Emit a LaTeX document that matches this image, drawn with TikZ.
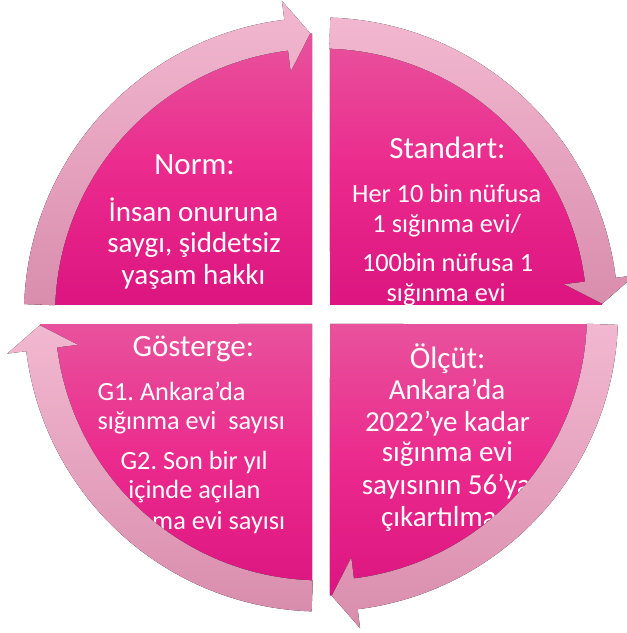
\documentclass[tikz,border=0pt]{standalone}
\usepackage{fontspec}
\setmainfont{Carlito}
\usetikzlibrary{calc}
\frenchspacing
\definecolor{qtop}{HTML}{E8529C}
\definecolor{qmid}{HTML}{EB2A8D}
\definecolor{qbot}{HTML}{DC1580}
\definecolor{atop}{HTML}{F2B8D0}
\definecolor{abot}{HTML}{D98DAD}
\tikzset{
  quad/.style={top color=qtop, bottom color=qbot, middle color=qmid},
  arrowband/.style={top color=atop, bottom color=abot},
  ttl/.style={text=white, inner sep=0pt, font=\fontsize{31}{37}\selectfont},
  bodyL/.style={text=white, inner sep=0pt, font=\fontsize{29}{35}\selectfont},
  bodyS/.style={text=white, inner sep=0pt, font=\fontsize{26.3}{32}\selectfont},
}
\newcommand{\cycarrow}[3]{%
  \fill[arrowband] ($(C)+(#1:297)$) arc[start angle=#1, end angle=#2, radius=297]
    -- ($(C)+(#2:316)$) -- ($(C)+(#3:281.5)$) -- ($(C)+(#2:245)$)
    -- ($(C)+(#2:266)$) arc[start angle=#2, end angle=#1, radius=266] -- cycle;}
\begin{document}
\begin{tikzpicture}[x=1pt,y=1pt]
\useasboundingbox (0,0) rectangle (627,633);
\fill[white] (0,0) rectangle (627,633);
\coordinate (C) at (321,318.5);
% quadrants
\fill[quad] (312,328) -- ($(C)+(91.835:281)$) arc[start angle=91.835,end angle=178.06,radius=281] -- cycle;
\fill[quad] (330,328) -- ($(C)+(88.165:281)$) arc[start angle=88.165,end angle=1.94,radius=281] -- cycle;
\fill[quad] (330,309) -- ($(C)+(-1.94:281)$) arc[start angle=-1.94,end angle=-88.165,radius=281] -- cycle;
\fill[quad] (312,309) -- ($(C)+(-91.835:281)$) arc[start angle=-91.835,end angle=-178.06,radius=281] -- cycle;
% texts top-left
\node[ttl,anchor=base] (tlT) at (194.5,458) {Norm:};
\node[bodyL,anchor=base] (tl1) at (193.5,411.5) {İnsan onuruna};
\node[bodyL,anchor=base] (tl2) at (194,380.5) {saygı, şiddetsiz};
\node[bodyL,anchor=base] (tl3) at (193.5,348.5) {yaşam hakkı};
% texts top-right
\node[ttl,anchor=base] (trT) at (447.5,474.7) {Standart:};
\node[bodyS,anchor=base] (tr1) at (446.7,430.3) {Her 10 bin nüfusa};
\node[bodyS,anchor=base] (tr2) at (446.7,400.7) {1 sığınma evi/};
\node[bodyS,anchor=base] (tr3) at (447.7,361.3) {100bin nüfusa 1};
\node[bodyS,anchor=base] (tr4) at (446.2,331.3) {sığınma evi};
% texts bottom-left
\node[ttl,anchor=base] (blT) at (193.3,276.3) {Gösterge:};
\node[bodyS,anchor=base west] (bl1) at (97.3,232.3) {G1. Ankara’da};
\node[bodyS,anchor=base west] (bl2) at (97.3,203) {sığınma evi\ \ sayısı};
\node[bodyS,anchor=base] (bl3) at (194.2,163) {G2. Son bir yıl};
\node[bodyS,anchor=base] (bl4) at (194.5,134.5) {içinde açılan};
\node[bodyS,anchor=base east] (bl5) at (285.5,103.5) {sığınma evi sayısı};
% texts bottom-right
\node[ttl,anchor=base] (brT) at (447.7,264.7) {Ölçüt:};
\node[bodyL,anchor=base] (br1) at (447,233) {Ankara’da};
\node[bodyL,anchor=base] (br2) at (447.5,201.3) {2022’ye kadar};
\node[bodyL,anchor=base] (br3) at (447.5,171.3) {sığınma evi};
\node[bodyL,anchor=base west] (br4) at (361.7,138) {sayısının 56’ya};
\node[bodyL,anchor=base west] (br5) at (381,106.3) {çıkartılması};
% cycle arrows
\cycarrow{178}{97.1}{92.2}
\cycarrow{88.2}{7.1}{2.2}
\cycarrow{-2}{-82.9}{-87.8}
\cycarrow{-91.8}{-172.9}{-177.8}
\end{tikzpicture}
\end{document}
